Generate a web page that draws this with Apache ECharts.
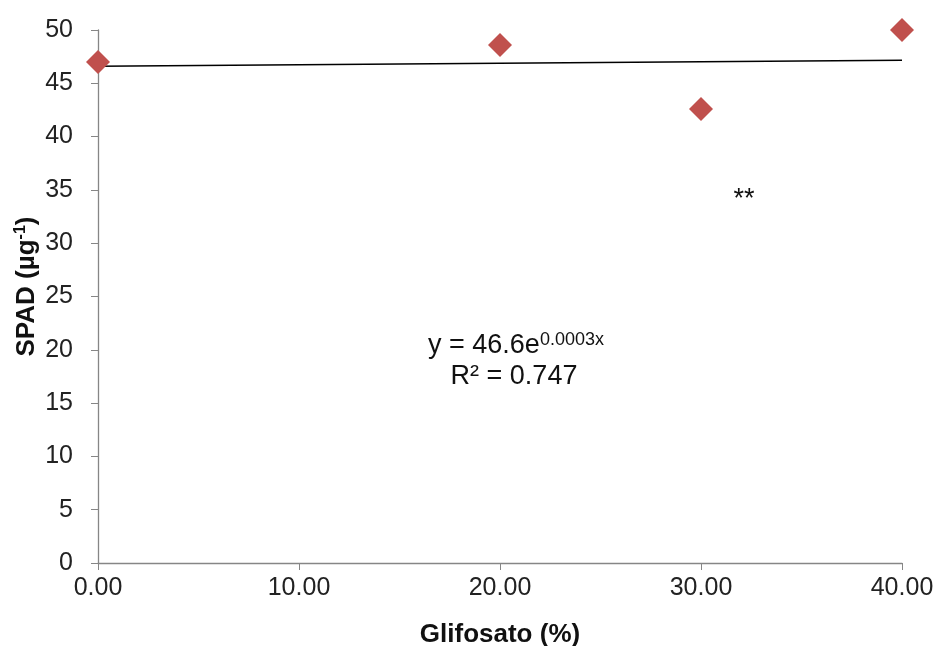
<!DOCTYPE html>
<html><head><meta charset="utf-8">
<script src="https://cdn.jsdelivr.net/npm/echarts@6/dist/echarts.min.js"></script>
<style>html,body{margin:0;padding:0;background:#fff}#c{width:939px;height:646px}</style>
</head><body><div id="c"></div>
<script>
const glifosato = [0, 20, 30, 40];
const spad = [47.0, 48.6, 42.6, 50.0];
const trendX = [0, 10, 20, 30, 40];
const trendY = [46.6, 46.74, 46.88, 47.02, 47.16];
const xTicks = [0, 10, 20, 30, 40];
const yTicks = [0, 5, 10, 15, 20, 25, 30, 35, 40, 45, 50];

const font = '"Liberation Sans", Arial, sans-serif';
const chart = echarts.init(document.getElementById('c'));
chart.setOption({
  animation: false,
  grid: {left: 98, right: 37, top: 30, bottom: 83, containLabel: false, outerBoundsMode: 'none'},
  xAxis: {
    type: 'value', min: xTicks[0], max: xTicks[xTicks.length-1], interval: 10,
    axisLine: {lineStyle: {color: '#868686', width: 1.3}},
    axisTick: {show: true, length: 7, lineStyle: {color: '#868686'}},
    splitLine: {show: false},
    axisLabel: {fontFamily: font, fontSize: 25, color: '#222', margin: 13, formatter: v => v.toFixed(2)},
    name: 'Glifosato (%)', nameLocation: 'middle', nameGap: 59, nameMoveOverlap: false,
    nameTextStyle: {fontFamily: font, fontSize: 26, fontWeight: 'bold', color: '#111'}
  },
  yAxis: {
    type: 'value', min: yTicks[0], max: yTicks[yTicks.length-1], interval: 5,
    axisLine: {show: true, lineStyle: {color: '#868686', width: 1.3}},
    axisTick: {show: true, length: 7, lineStyle: {color: '#868686'}},
    splitLine: {show: false},
    axisLabel: {fontFamily: font, fontSize: 25, color: '#222', margin: 25},
    name: '{a|SPAD (µg}{s|-1}{a|)}', nameLocation: 'middle', nameGap: 57, nameRotate: 90, nameMoveOverlap: false,
    nameTextStyle: {padding: [0, 0, 0, 20], rich: {
      a: {fontFamily: font, fontSize: 26, fontWeight: 'bold', color: '#111'},
      s: {fontFamily: font, fontSize: 16, fontWeight: 'bold', color: '#111', verticalAlign: 'top', padding: [0,0,12,0]}
    }}
  },
  series: [
    {type: 'line', data: trendX.map((x, i) => [x, trendY[i]]), symbol: 'none',
     lineStyle: {color: '#000', width: 1.6}, silent: true, z: 1},
    {type: 'scatter', data: glifosato.map((x, i) => [x, spad[i]]), symbol: 'diamond', symbolSize: 24,
     itemStyle: {color: '#C0504D', opacity: 1}, z: 2}
  ],
  graphic: [
    {type: 'text', x: 516, y: 346, style: {
      text: '{a|y = 46.6e}{s|0.0003x}', align: 'center', verticalAlign: 'middle', rich: {
        a: {fontFamily: font, fontSize: 27, fill: '#111'},
        s: {fontFamily: font, fontSize: 18, fill: '#111', verticalAlign: 'top', padding: [0,0,12,0]}
      }}},
    {type: 'text', x: 514, y: 377, style: {text: 'R² = 0.747', align: 'center', verticalAlign: 'middle', fontFamily: font, fontSize: 27, fill: '#111'}},
    {type: 'text', x: 744, y: 200, style: {text: '**', align: 'center', verticalAlign: 'middle', fontFamily: font, fontSize: 27, fill: '#111'}}
  ]
});
</script></body></html>
